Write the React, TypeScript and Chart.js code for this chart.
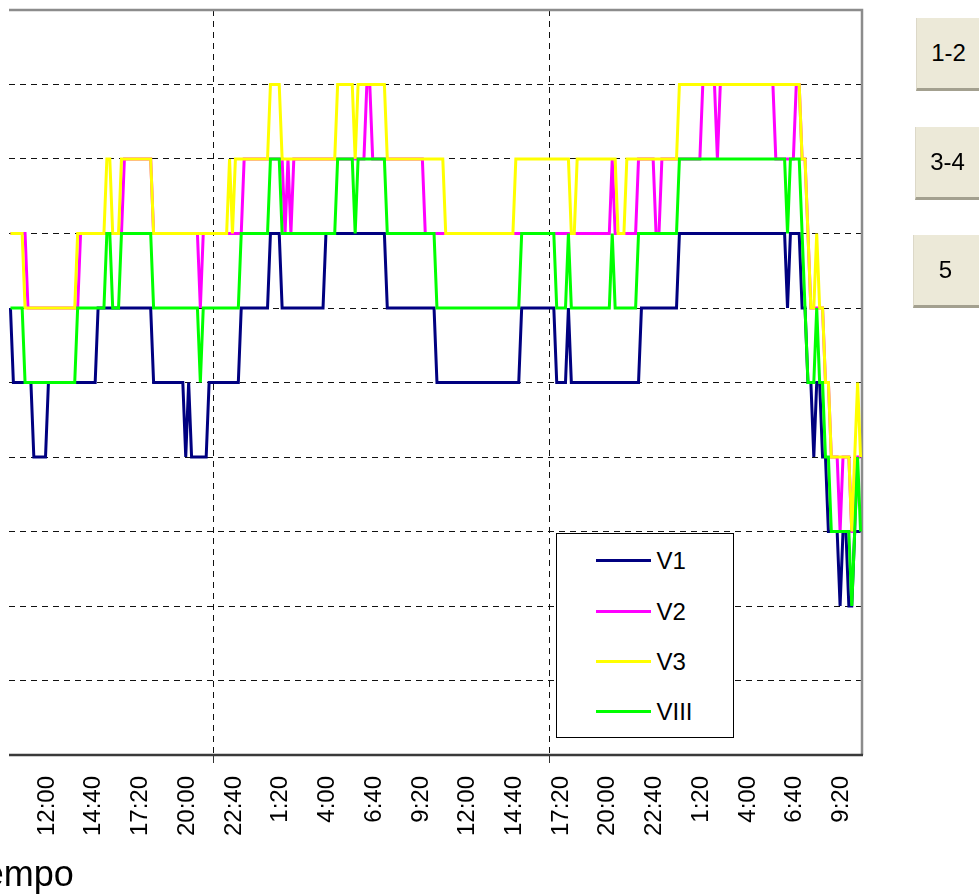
import React, { useEffect, useRef } from 'react';
import { Chart, registerables } from 'chart.js';

Chart.register(...registerables);

// Sampling: first sample at 9:55 (minutes from 0:00 of day 1), one sample every 10 minutes
const START_MIN = 595;
const STEP_MIN = 10;

const seriesNames = ['V1', 'V2', 'V3', 'VIII'];
const seriesColors = ['#000080', '#ff00ff', '#ffff00', '#00ff00'];

const v1 = [
  6,5,5,5,5,5,5,5,4,4,4,4,4,5,5,5,5,5,5,5,
  5,5,5,5,5,5,5,5,5,5,6,6,6,6,6,6,6,6,6,6,
  6,6,6,6,6,6,6,6,6,5,5,5,5,5,5,5,5,5,5,5,
  4,5,4,4,4,4,4,4,5,5,5,5,5,5,5,5,5,5,5,6,
  6,6,6,6,6,6,6,6,6,7,7,7,7,6,6,6,6,6,6,6,
  6,6,6,6,6,6,6,6,7,7,7,7,7,7,7,7,7,7,7,7,
  7,7,7,7,7,7,7,7,7,6,6,6,6,6,6,6,6,6,6,6,
  6,6,6,6,6,6,5,5,5,5,5,5,5,5,5,5,5,5,5,5,
  5,5,5,5,5,5,5,5,5,5,5,5,5,5,5,6,6,6,6,6,
  6,6,6,6,6,6,6,5,5,5,5,6,5,5,5,5,5,5,5,5,
  5,5,5,5,5,5,5,5,5,5,5,5,5,5,5,5,6,6,6,6,
  6,6,6,6,6,6,6,6,6,7,7,7,7,7,7,7,7,7,7,7,
  7,7,7,7,7,7,7,7,7,7,7,7,7,7,7,7,7,7,7,7,
  7,7,7,7,7,7,6,7,7,7,7,6,6,5,5,4,5,5,4,4,
  3,3,3,3,2,3,3,2,2,3,3,3,
];

const v2 = [
  7,7,7,7,7,7,6,6,6,6,6,6,6,6,6,6,6,6,6,6,
  6,6,6,6,7,7,7,7,7,7,7,7,7,7,7,7,7,7,7,8,
  8,8,8,8,8,8,8,8,8,7,7,7,7,7,7,7,7,7,7,7,
  7,7,7,7,7,6,7,7,7,7,7,7,7,7,7,7,7,7,7,7,
  8,8,8,8,8,8,8,8,8,8,8,8,8,8,7,8,7,8,8,8,
  8,8,8,8,8,8,8,8,8,8,8,8,8,8,8,8,8,8,8,8,
  8,8,9,9,8,8,8,8,8,8,8,8,8,8,8,8,8,8,8,8,
  8,8,7,7,7,7,7,7,7,7,7,7,7,7,7,7,7,7,7,7,
  7,7,7,7,7,7,7,7,7,7,7,7,7,7,7,7,7,7,7,7,
  7,7,7,7,7,7,7,7,7,7,7,7,7,7,7,7,7,7,7,7,
  7,7,7,7,7,7,8,7,7,7,7,7,7,7,7,8,8,8,8,8,
  8,7,7,8,8,8,8,8,8,8,8,8,8,8,8,8,8,9,9,9,
  9,9,8,9,9,9,9,9,9,9,9,9,9,9,9,9,9,9,9,9,
  9,9,8,8,8,8,8,8,8,9,9,8,8,7,6,6,6,6,6,5,
  5,4,4,4,3,4,4,4,3,3,4,4,
];

const v3 = [
  7,7,7,7,7,6,6,6,6,6,6,6,6,6,6,6,6,6,6,6,
  6,6,6,7,7,7,7,7,7,7,7,7,7,8,8,7,7,7,8,8,
  8,8,8,8,8,8,8,8,8,7,7,7,7,7,7,7,7,7,7,7,
  7,7,7,7,7,7,7,7,7,7,7,7,7,7,7,8,7,8,8,8,
  8,8,8,8,8,8,8,8,8,9,9,9,9,8,8,8,8,8,8,8,
  8,8,8,8,8,8,8,8,8,8,8,8,9,9,9,9,9,9,8,9,
  9,9,9,9,9,9,9,9,9,8,8,8,8,8,8,8,8,8,8,8,
  8,8,8,8,8,8,8,8,8,7,7,7,7,7,7,7,7,7,7,7,
  7,7,7,7,7,7,7,7,7,7,7,7,7,8,8,8,8,8,8,8,
  8,8,8,8,8,8,8,8,8,8,8,8,7,7,8,8,8,8,8,8,
  8,8,8,8,8,8,8,8,7,7,7,8,8,8,8,8,8,8,8,8,
  8,8,8,8,8,8,8,8,8,9,9,9,9,9,9,9,9,9,9,9,
  9,9,9,9,9,9,9,9,9,9,9,9,9,9,9,9,9,9,9,9,
  9,9,9,9,9,9,9,9,9,9,9,8,8,7,6,6,7,6,6,5,
  5,4,4,4,4,4,4,4,3,4,5,4,
];

const viii = [
  6,6,6,6,6,5,5,5,5,5,5,5,5,5,5,5,5,5,5,5,
  5,5,5,6,6,6,6,6,6,6,6,6,6,7,7,6,6,6,7,7,
  7,7,7,7,7,7,7,7,7,6,6,6,6,6,6,6,6,6,6,6,
  6,6,6,6,6,5,6,6,6,6,6,6,6,6,6,6,6,6,6,7,
  7,7,7,7,7,7,7,7,7,8,8,8,8,7,7,7,7,7,7,7,
  7,7,7,7,7,7,7,7,7,7,7,7,8,8,8,8,8,8,7,8,
  8,8,8,8,8,8,8,8,8,7,7,7,7,7,7,7,7,7,7,7,
  7,7,7,7,7,7,6,6,6,6,6,6,6,6,6,6,6,6,6,6,
  6,6,6,6,6,6,6,6,6,6,6,6,6,6,6,7,7,7,7,7,
  7,7,7,7,7,7,7,6,6,6,6,7,6,6,6,6,6,6,6,6,
  6,6,6,6,6,6,7,6,6,6,6,6,6,6,6,7,7,7,7,7,
  7,7,7,7,7,7,7,7,7,8,8,8,8,8,8,8,8,8,8,8,
  8,8,8,8,8,8,8,8,8,8,8,8,8,8,8,8,8,8,8,8,
  8,8,8,8,8,8,7,8,8,8,8,7,6,5,5,5,6,5,5,4,
  4,3,3,3,3,3,3,3,2,3,4,3,
];

// x-axis label positions (minutes from 0:00 of day 1) and their texts
const tickMinutes = [720, 880, 1040, 1200, 1360, 1520, 1680, 1840, 2000, 2160, 2320, 2480, 2640, 2800, 2960, 3120, 3280, 3440];
const tickLabels = ['12:00', '14:40', '17:20', '20:00', '22:40', '1:20', '4:00', '6:40', '9:20', '12:00', '14:40', '17:20', '20:00', '22:40', '1:20', '4:00', '6:40', '9:20'];
// vertical reference lines
const markerMinutes = [1290, 2440];

const Y_MIN = 0;
const Y_MAX = 10;

const FONT = "'Liberation Sans', Arial, Helvetica, sans-serif";

const allSeries = [v1, v2, v3, viii];

const framePlugin = {
  id: 'frame',
  beforeDatasetsDraw(chart: any) {
    const { ctx, chartArea } = chart;
    const { left, top, right, bottom } = chartArea;
    ctx.save();
    ctx.strokeStyle = '#8c8c8c';
    ctx.lineWidth = 2.5;
    ctx.beginPath();
    ctx.moveTo(left, top);
    ctx.lineTo(right, top);
    ctx.lineTo(right, bottom);
    ctx.stroke();
    ctx.strokeStyle = '#3a3a3a';
    ctx.lineWidth = 2.5;
    ctx.beginPath();
    ctx.moveTo(left, bottom);
    ctx.lineTo(right + 1, bottom);
    ctx.stroke();
    ctx.restore();
  },
};

function ChartCanvas() {
  const ref = useRef<HTMLCanvasElement | null>(null);

  useEffect(() => {
    if (!ref.current) return;
    const n = v1.length;
    const sampleTimes = v1.map((_, i) => START_MIN + i * STEP_MIN);
    const xMin = START_MIN - STEP_MIN / 2;
    const xMax = START_MIN + (n - 1) * STEP_MIN + STEP_MIN / 2;
    const allTicks = [...tickMinutes, ...markerMinutes].sort((a, b) => a - b);

    const datasets = allSeries.map((s, k) => ({
      label: seriesNames[k],
      data: s.map((y, i) => ({ x: sampleTimes[i], y })),
      borderColor: seriesColors[k],
      backgroundColor: seriesColors[k],
      borderWidth: 3,
      pointRadius: 0,
      tension: 0,
      fill: false,
      order: 4 - k,
    }));

    const chart = new Chart(ref.current, {
      type: 'line',
      data: { datasets },
      options: {
        animation: false,
        responsive: false,
        maintainAspectRatio: false,
        events: [],
        layout: { padding: { left: 0, top: 10, right: 117, bottom: 0 } },
        plugins: {
          legend: { display: false },
          tooltip: { enabled: false },
          title: { display: false },
        },
        scales: {
          x: {
            type: 'linear',
            min: xMin,
            max: xMax,
            afterBuildTicks: (scale: any) => {
              scale.ticks = allTicks.map((v) => ({ value: v }));
            },
            afterFit: (scale: any) => {
              scale.height = 141;
            },
            ticks: {
              autoSkip: false,
              minRotation: 90,
              maxRotation: 90,
              padding: 13,
              color: '#000',
              font: { family: FONT, size: 24 },
              callback: (value: any) => {
                const k = tickMinutes.indexOf(Number(value));
                return k >= 0 ? tickLabels[k] : '';
              },
            },
            grid: {
              color: (c: any) => (c.tick && markerMinutes.includes(c.tick.value) ? '#111' : 'rgba(0,0,0,0)'),
              tickColor: (c: any) => (c.tick && markerMinutes.includes(c.tick.value) ? '#333' : 'rgba(0,0,0,0)'),
              lineWidth: 1,
              tickLength: 8,
              drawTicks: true,
            },
            border: { display: false, dash: [6, 5] },
          },
          y: {
            type: 'linear',
            min: Y_MIN,
            max: Y_MAX,
            afterFit: (scale: any) => {
              scale.width = 9;
            },
            ticks: { display: false, stepSize: 1 },
            grid: {
              color: (c: any) =>
                c.tick && c.tick.value > Y_MIN && c.tick.value < Y_MAX ? '#111' : 'rgba(0,0,0,0)',
              lineWidth: 1,
              drawTicks: false,
            },
            border: { display: false, dash: [6, 5] },
          },
        },
      },
      plugins: [framePlugin],
    } as any);

    return () => {
      chart.destroy();
    };
  }, []);

  return (
    <canvas
      ref={ref}
      width={979}
      height={896}
      style={{ position: 'absolute', left: 0, top: 0, width: 979, height: 896 }}
    />
  );
}

const legendRows = [561, 612, 662, 712];

function Legend() {
  const boxLeft = 556;
  const boxTop = 533;
  return (
    <div
      style={{
        position: 'absolute',
        left: boxLeft,
        top: boxTop,
        width: 178,
        height: 205,
        border: '1.5px solid #000',
        background: '#fff',
        boxSizing: 'border-box',
      }}
    >
      {seriesNames.map((name, k) => (
        <React.Fragment key={name}>
          <div
            style={{
              position: 'absolute',
              left: 596 - boxLeft - 1.5,
              top: legendRows[k] - boxTop - 1.5 - 1.5,
              width: 55,
              height: 3,
              background: seriesColors[k],
            }}
          />
          <div
            style={{
              position: 'absolute',
              left: 657 - boxLeft - 1.5,
              top: legendRows[k] - boxTop - 12 - 1.5,
              fontFamily: FONT,
              fontSize: 24,
              lineHeight: '24px',
              color: '#000',
              whiteSpace: 'nowrap',
            }}
          >
            {name}
          </div>
        </React.Fragment>
      ))}
    </div>
  );
}

const buttonLabels = ['1-2', '3-4', '5'];
const buttonTops = [18, 127, 235];
const buttonLefts = [916, 915, 913];

function Buttons() {
  return (
    <>
      {buttonLabels.map((label, k) => (
        <div
          key={label}
          style={{
            position: 'absolute',
            left: buttonLefts[k],
            top: buttonTops[k],
            width: 70,
            height: 73,
            background: '#ECE9D8',
            borderBottom: '3px solid #a3a08f',
            borderLeft: '1px solid #dcd8c8',
            boxSizing: 'border-box',
            display: 'flex',
            alignItems: 'center',
            justifyContent: 'center',
            paddingRight: 6,
            fontFamily: FONT,
            fontSize: 24,
            color: '#000',
          }}
        >
          {label}
        </div>
      ))}
    </>
  );
}

export default function App() {
  return (
    <div
      style={{
        position: 'fixed',
        left: 0,
        top: 0,
        width: 979,
        height: 896,
        overflow: 'hidden',
        background: '#fff',
      }}
    >
      <ChartCanvas />
      <Legend />
      <Buttons />
      <div
        style={{
          position: 'absolute',
          left: -45,
          top: 856,
          fontFamily: FONT,
          fontSize: 36,
          lineHeight: '36px',
          color: '#000',
          whiteSpace: 'nowrap',
        }}
      >
        Tiempo
      </div>
    </div>
  );
}
